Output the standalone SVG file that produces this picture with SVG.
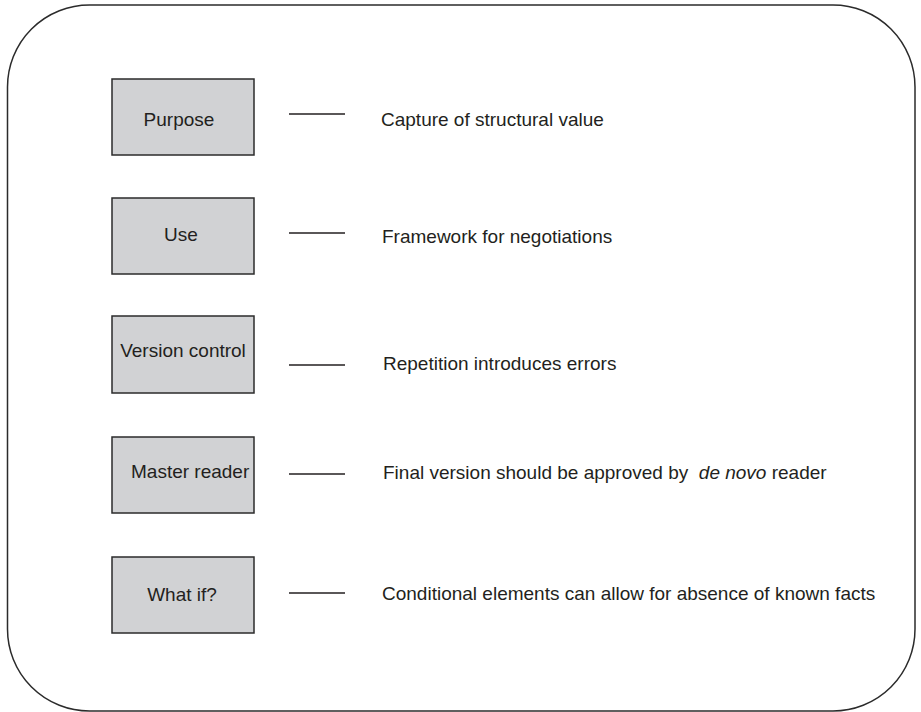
<svg xmlns="http://www.w3.org/2000/svg" width="921" height="712" viewBox="0 0 921 712">
<style>
.frame{fill:#fff;stroke:#2b2b2b;stroke-width:1.5}
.box{fill:#d1d2d4;stroke:#2b2b2b;stroke-width:1.5}
.lbl{font-family:"Liberation Sans",Arial,sans-serif;font-size:19px;fill:#231f20}
.c{text-anchor:middle}
.conn{stroke:#231f20;stroke-width:1.3;fill:none}
</style>
<rect width="921" height="712" fill="#fff"/>
<rect class="frame" x="7.5" y="5" width="907.5" height="706" rx="82" ry="82"/>
<g id="node-purpose">
<rect class="box" x="112" y="79" width="142" height="76"/>
<text class="lbl c" x="179" y="126">Purpose</text>
</g>
<g id="node-use">
<rect class="box" x="112" y="198" width="142" height="76"/>
<text class="lbl c" x="181" y="241">Use</text>
</g>
<g id="node-version">
<rect class="box" x="112" y="316" width="142" height="77"/>
<text class="lbl c" x="183" y="357">Version control</text>
</g>
<g id="node-master">
<rect class="box" x="112" y="437" width="142" height="76"/>
<text class="lbl" x="131" y="478">Master reader</text>
</g>
<g id="node-whatif">
<rect class="box" x="112" y="557" width="142" height="76"/>
<text class="lbl c" x="182" y="601">What if?</text>
</g>
<g id="connectors">
<line class="conn" x1="289" y1="114" x2="345" y2="114"/>
<line class="conn" x1="289" y1="233" x2="345" y2="233"/>
<line class="conn" x1="289" y1="365" x2="345" y2="365"/>
<line class="conn" x1="289" y1="474" x2="345" y2="474"/>
<line class="conn" x1="289" y1="593" x2="345" y2="593"/>
</g>
<g id="desc-purpose"><text class="lbl" x="381" y="126">Capture of structural value</text></g>
<g id="desc-use"><text class="lbl" x="382" y="243">Framework for negotiations</text></g>
<g id="desc-version"><text class="lbl" x="383" y="370">Repetition introduces errors</text></g>
<g id="desc-master"><text class="lbl" x="383" y="479" xml:space="preserve">Final version should be approved by  <tspan font-style="italic">de novo</tspan> reader</text></g>
<g id="desc-whatif"><text class="lbl" x="382" y="600">Conditional elements can allow for absence of known facts</text></g>
</svg>
